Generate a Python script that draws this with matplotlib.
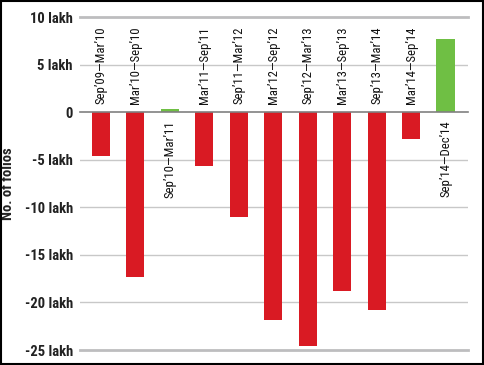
import matplotlib
matplotlib.use("Agg")
import matplotlib.pyplot as plt
from matplotlib.patches import Rectangle

# period labels and change in folios (lakh)
periods = ["Sep’09—Mar’10", "Mar’10—Sep’10", "Sep’10—Mar’11", "Mar’11—Sep’11",
           "Sep’11—Mar’12", "Mar’12—Sep’12", "Sep’12—Mar’13", "Mar’13—Sep’13",
           "Sep’13—Mar’14", "Mar’14—Sep’14", "Sep’14—Dec’14"]
change = [-4.6, -17.3, 0.3, -5.7, -11.0, -21.8, -24.6, -18.8, -20.8, -2.8, 7.7]
yticks = [10, 5, 0, -5, -10, -15, -20, -25]
ytick_labels = ["10 lakh", "5 lakh", "0", "-5 lakh", "-10 lakh", "-15 lakh", "-20 lakh", "-25 lakh"]

red = "#d91a23"
green = "#6fbf44"

plt.rcParams['font.family'] = ['Roboto Condensed', 'DejaVu Sans']

fig = plt.figure(figsize=(4.84, 3.65), dpi=100)
ax = fig.add_axes([0.165, 0.041, 0.802, 0.912])

# gridlines
for t in yticks:
    if t == 0:
        ax.axhline(t, color="#808080", lw=1.2, zorder=3, clip_on=False)
    elif t in (10, -25):
        ax.axhline(t, color="#bdbdbf", lw=2.0, zorder=0, clip_on=False)
    else:
        ax.axhline(t, color="#c8c8c8", lw=1.0, zorder=0)

x = list(range(len(change)))
colors = [green if v > 0 else red for v in change]
ax.bar(x, change, width=0.53, color=colors, zorder=2)

for i, (lab, v) in enumerate(zip(periods, change)):
    if v < 0:
        ax.text(i, 0.9, lab, rotation=90, ha="center", va="bottom", fontsize=9.2, color="#111111")
    else:
        ax.text(i, -0.9, lab, rotation=90, ha="center", va="top", fontsize=9.2, color="#111111")

ax.set_xlim(-0.61, 10.65)
ax.set_ylim(-25, 10)
ax.set_yticks(yticks)
ax.set_yticklabels(ytick_labels, fontsize=10.5, fontweight="bold", color="#222222")
ax.tick_params(axis="y", length=0, pad=5)
ax.set_xticks([])
for s in ax.spines.values():
    s.set_visible(False)
ax.set_ylabel("No. of folios", fontsize=10.5, fontweight="bold", color="#222222")
ax.yaxis.set_label_coords(-0.168, 0.5)

# outer frame
fig.patches.append(Rectangle((0.002, 0.003), 0.996, 0.994, transform=fig.transFigure,
                             fill=False, edgecolor="black", lw=1.5))

fig.savefig("out.png", dpi=100)
